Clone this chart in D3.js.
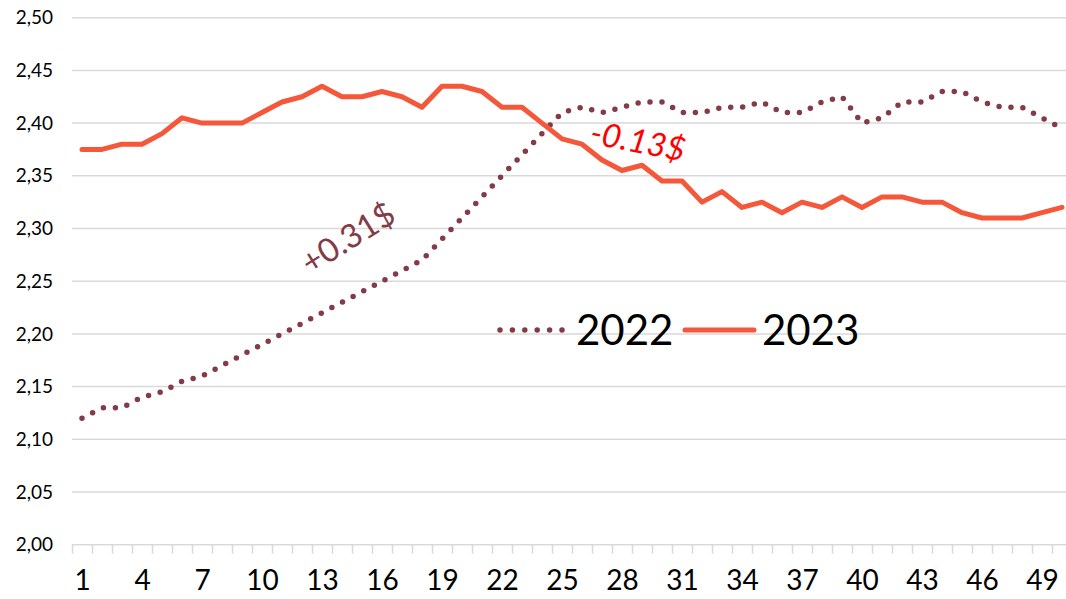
<!DOCTYPE html>
<html>
<head>
<meta charset="utf-8">
<script src="https://cdn.jsdelivr.net/npm/d3@7"></script>
<style>
  body { margin: 0; background: #fff; }
  svg { display: block; font-family: Lato, 'Open Sans', sans-serif; }
</style>
</head>
<body>
<svg id="chart"></svg>
<script>
// weekly price, 2022 vs 2023
const weeks = [1, 2, 3, 4, 5, 6, 7, 8, 9, 10, 11, 12, 13, 14, 15, 16, 17, 18, 19, 20,
  21, 22, 23, 24, 25, 26, 27, 28, 29, 30, 31, 32, 33, 34, 35, 36, 37, 38, 39, 40,
  41, 42, 43, 44, 45, 46, 47, 48, 49, 50];

const values2022 = [2.12, 2.13, 2.13, 2.14, 2.145, 2.155, 2.16, 2.17, 2.18, 2.19,
  2.20, 2.21, 2.22, 2.23, 2.24, 2.25, 2.26, 2.27, 2.29, 2.31,
  2.33, 2.35, 2.37, 2.39, 2.41, 2.415, 2.41, 2.415, 2.42, 2.42,
  2.41, 2.41, 2.415, 2.415, 2.42, 2.41, 2.41, 2.42, 2.425, 2.40,
  2.405, 2.42, 2.42, 2.43, 2.43, 2.42, 2.415, 2.415, 2.405, 2.395];

const values2023 = [2.375, 2.375, 2.38, 2.38, 2.39, 2.405, 2.40, 2.40, 2.40, 2.41,
  2.42, 2.425, 2.435, 2.425, 2.425, 2.43, 2.425, 2.415, 2.435, 2.435,
  2.43, 2.415, 2.415, 2.40, 2.385, 2.38, 2.365, 2.355, 2.36, 2.345,
  2.345, 2.325, 2.335, 2.32, 2.325, 2.315, 2.325, 2.32, 2.33, 2.32,
  2.33, 2.33, 2.325, 2.325, 2.315, 2.31, 2.31, 2.31, 2.315, 2.32];

const yTicks = [2.00, 2.05, 2.10, 2.15, 2.20, 2.25, 2.30, 2.35, 2.40, 2.45, 2.50];
const xTickLabels = [1, 4, 7, 10, 13, 16, 19, 22, 25, 28, 31, 34, 37, 40, 43, 46, 49];

const width = 1066, height = 599;
const margin = { left: 72, top: 17.7, bottom: 54.3 };
const plotRight = 1072; // plot runs a little past the picture edge

const svg = d3.select('#chart').attr('width', width).attr('height', height);

const x = d3.scaleLinear()
  .domain([0.5, weeks.length + 0.5])
  .range([margin.left, plotRight]);

const y = d3.scaleLinear()
  .domain([2.0, 2.5])
  .range([height - margin.bottom, margin.top]);

// gridlines
svg.append('g')
  .selectAll('line')
  .data(yTicks)
  .join('line')
  .attr('x1', margin.left)
  .attr('x2', plotRight)
  .attr('y1', d => y(d))
  .attr('y2', d => y(d))
  .attr('stroke', '#d9d9d9')
  .attr('stroke-width', 1.5);

// y labels
svg.append('g')
  .selectAll('text')
  .data(yTicks)
  .join('text')
  .attr('x', 53)
  .attr('y', d => y(d))
  .attr('dy', '0.35em')
  .attr('text-anchor', 'end')
  .attr('font-size', 19)
  .attr('fill', '#000')
  .text(d => d.toFixed(2).replace('.', ','));

// x axis: small ticks at category borders, labels every 3rd week
const xAxisTicks = d3.axisBottom(x)
  .tickValues(d3.range(0.5, weeks.length + 1, 1))
  .tickSize(9)
  .tickFormat('');

const gx = svg.append('g')
  .attr('transform', `translate(0,${y(2.0)})`)
  .call(xAxisTicks);
gx.select('.domain').remove();
gx.selectAll('line').attr('stroke', '#d9d9d9').attr('stroke-width', 1.5);

const xAxisLabels = d3.axisBottom(x)
  .tickValues(xTickLabels)
  .tickSize(0)
  .tickPadding(25);

const gl = svg.append('g')
  .attr('transform', `translate(0,${y(2.0)})`)
  .call(xAxisLabels);
gl.select('.domain').remove();
gl.selectAll('text')
  .attr('font-size', 28)
  .attr('font-family', 'Lato, sans-serif')
  .attr('fill', '#000');

const line = d3.line()
  .x((d, i) => x(weeks[i]))
  .y(d => y(d));

// 2022 dotted
svg.append('path')
  .datum(values2022)
  .attr('fill', 'none')
  .attr('stroke', '#833b47')
  .attr('stroke-width', 5.5)
  .attr('stroke-linecap', 'round')
  .attr('stroke-dasharray', '0 12')
  .attr('d', line);

// 2023 solid
svg.append('path')
  .datum(values2023)
  .attr('fill', 'none')
  .attr('stroke', '#f4573a')
  .attr('stroke-width', 5)
  .attr('stroke-linejoin', 'round')
  .attr('stroke-linecap', 'round')
  .attr('d', line);

// annotations
svg.append('text')
  .attr('transform', 'translate(348,238) rotate(-32)')
  .attr('text-anchor', 'middle')
  .attr('dy', '0.35em')
  .attr('font-size', 33)
  .attr('fill', '#833b47')
  .text('+0.31$');

svg.append('text')
  .attr('transform', 'translate(638,141) rotate(11)')
  .attr('text-anchor', 'middle')
  .attr('dy', '0.35em')
  .attr('font-size', 33)
  .attr('font-style', 'italic')
  .attr('fill', '#ff0000')
  .text('-0.13$');

// legend
const legend = svg.append('g');
legend.append('line')
  .attr('x1', 500).attr('x2', 562)
  .attr('y1', 330).attr('y2', 330)
  .attr('stroke', '#833b47')
  .attr('stroke-width', 5.5)
  .attr('stroke-linecap', 'round')
  .attr('stroke-dasharray', '0 12.4');
legend.append('text')
  .attr('x', 576).attr('y', 345)
  .attr('font-size', 42)
  .attr('fill', '#000')
  .text('2022');
legend.append('line')
  .attr('x1', 685).attr('x2', 754)
  .attr('y1', 330).attr('y2', 330)
  .attr('stroke', '#f4573a')
  .attr('stroke-width', 5)
  .attr('stroke-linecap', 'round');
legend.append('text')
  .attr('x', 762).attr('y', 345)
  .attr('font-size', 42)
  .attr('fill', '#000')
  .text('2023');
</script>
</body>
</html>
